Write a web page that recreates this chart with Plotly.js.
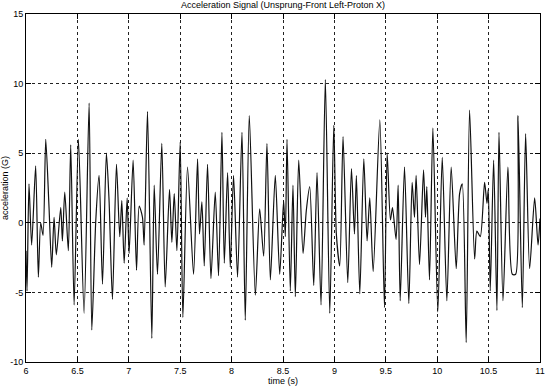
<!DOCTYPE html>
<html>
<head>
<meta charset="utf-8">
<script src="https://cdn.plot.ly/plotly-3.0.1.min.js"></script>
<style>html,body{margin:0;padding:0;background:#fff;}#chart{width:545px;height:388px;}</style>
</head>
<body>
<div id="chart"></div>
<script>
// Time (s) of signal turning points
var timeS = [
6.000,6.010,6.029,6.055,6.094,6.120,6.143,6.166,6.192,6.224,6.250,6.273,6.295,6.338,6.354,6.377,6.412,6.435,6.468,6.510,
6.565,6.614,6.640,6.679,6.711,6.744,6.782,6.808,6.841,6.880,6.912,6.932,6.955,6.984,7.003,7.042,7.075,7.101,7.133,7.149,
7.182,7.224,7.247,7.279,7.321,7.354,7.396,7.419,7.442,7.468,7.500,7.526,7.571,7.630,7.669,7.688,7.711,7.734,7.766,7.799,
7.841,7.873,7.906,7.929,7.961,7.987,8.019,8.058,8.101,8.133,8.172,8.231,8.273,8.312,8.344,8.377,8.425,8.468,8.506,8.523,
8.539,8.571,8.597,8.620,8.653,8.695,8.727,8.760,8.799,8.831,8.870,8.912,8.955,8.994,9.019,9.052,9.084,9.130,9.166,9.195,
9.214,9.247,9.286,9.318,9.344,9.377,9.442,9.487,9.513,9.545,9.565,9.600,9.620,9.640,9.682,9.724,9.756,9.779,9.795,9.828,
9.867,9.886,9.899,9.925,9.958,10.006,10.049,10.094,10.136,10.185,10.218,10.244,10.282,10.315,10.364,10.386,10.419,10.461,10.484,10.497,
10.516,10.549,10.581,10.601,10.640,10.688,10.731,10.763,10.786,10.828,10.860,10.899,10.948,10.981,11.000
];
// Acceleration (G) at those times
var accelG = [
-2.0,-4.9,2.8,-1.6,4.1,-3.9,0.0,-0.9,6.0,1.1,-3.2,0.4,-2.3,1.1,-1.3,2.2,-2.0,5.6,-5.9,6.0,
-6.5,8.6,-7.7,0.2,3.4,-4.4,5.0,1.6,-5.5,4.2,-1.0,1.6,-2.9,1.8,-2.2,4.5,-3.4,1.2,0.4,-1.6,
8.0,-8.3,2.7,-3.7,5.7,-4.6,2.4,-1.4,2.1,-2.0,5.8,-6.8,4.0,-3.7,4.6,-0.8,1.5,-3.1,4.2,-4.0,
2.2,-3.8,6.5,-2.9,3.6,-3.2,3.4,-3.9,6.5,-7.0,7.7,-5.2,1.0,-2.4,5.7,-4.1,3.4,-3.7,1.6,-1.0,
6.0,-4.9,2.7,-5.3,4.5,-2.2,0.9,2.6,-4.5,3.6,-5.9,10.3,-6.5,7.0,-0.8,-3.1,6.2,-4.3,3.9,-0.8,
3.4,-5.1,4.6,-1.3,1.8,-3.5,7.4,-6.1,5.0,0.2,1.1,-1.2,2.7,-5.6,4.0,-5.8,2.9,0.4,3.4,-3.0,
3.8,0.4,2.6,-4.1,6.8,-6.4,4.7,-5.6,4.0,-3.3,2.1,2.8,-8.6,8.1,-2.6,-0.6,-1.0,2.9,1.4,2.4,
-4.9,4.5,-6.3,6.5,-5.6,4.0,-3.7,-3.7,7.7,-6.1,6.4,-3.3,1.8,-1.6,0.3
];
var xTicks = [6,6.5,7,7.5,8,8.5,9,9.5,10,10.5,11];
var xTickText = ['6','6.5','7','7.5','8','8.5','9','9.5','10','10.5','11'];
var yTicks = [-10,-5,0,5,10,15];
var yTickText = ['-10','-5','0','5','10','15'];

var trace = {
  x: timeS, y: accelG, type: 'scatter', mode: 'lines',
  line: {color: '#111', width: 1.2, shape: 'spline', smoothing: 0.7},
  hoverinfo: 'skip'
};
var axisCommon = {
  showline: true, linecolor: '#000', linewidth: 1, mirror: 'ticks',
  ticks: 'inside', ticklen: 5, tickcolor: '#000', tickwidth: 1,
  showgrid: true, gridcolor: '#222', gridwidth: 1, griddash: 'dot',
  zeroline: false, tickfont: {family: 'Liberation Sans, Arial, sans-serif', size: 9, color: '#000'}
};
var layout = {
  width: 545, height: 388,
  margin: {l: 26, r: 5, t: 14, b: 26},
  paper_bgcolor: '#fff', plot_bgcolor: '#fff',
  showlegend: false,
  font: {family: 'Liberation Sans, Arial, sans-serif', size: 9, color: '#000'},
  title: {text: 'Acceleration Signal (Unsprung-Front Left-Proton X)', x: 0.5, xref: 'paper', y: 0.988, yanchor: 'middle',
          font: {family: 'Liberation Sans, Arial, sans-serif', size: 9, color: '#000'}},
  xaxis: Object.assign({}, axisCommon, {
    range: [6, 11], tickmode: 'array', tickvals: xTicks, ticktext: xTickText,
    title: {text: 'time (s)', standoff: 2, font: {family: 'Liberation Sans, Arial, sans-serif', size: 9, color: '#000'}}
  }),
  yaxis: Object.assign({}, axisCommon, {
    range: [-10, 15], tickmode: 'array', tickvals: yTicks, ticktext: yTickText,
    title: {text: 'acceleration (G)', standoff: 2, font: {family: 'Liberation Sans, Arial, sans-serif', size: 9, color: '#000'}}
  })
};
Plotly.newPlot('chart', [trace], layout, {displayModeBar: false, staticPlot: true});
</script>
</body>
</html>
